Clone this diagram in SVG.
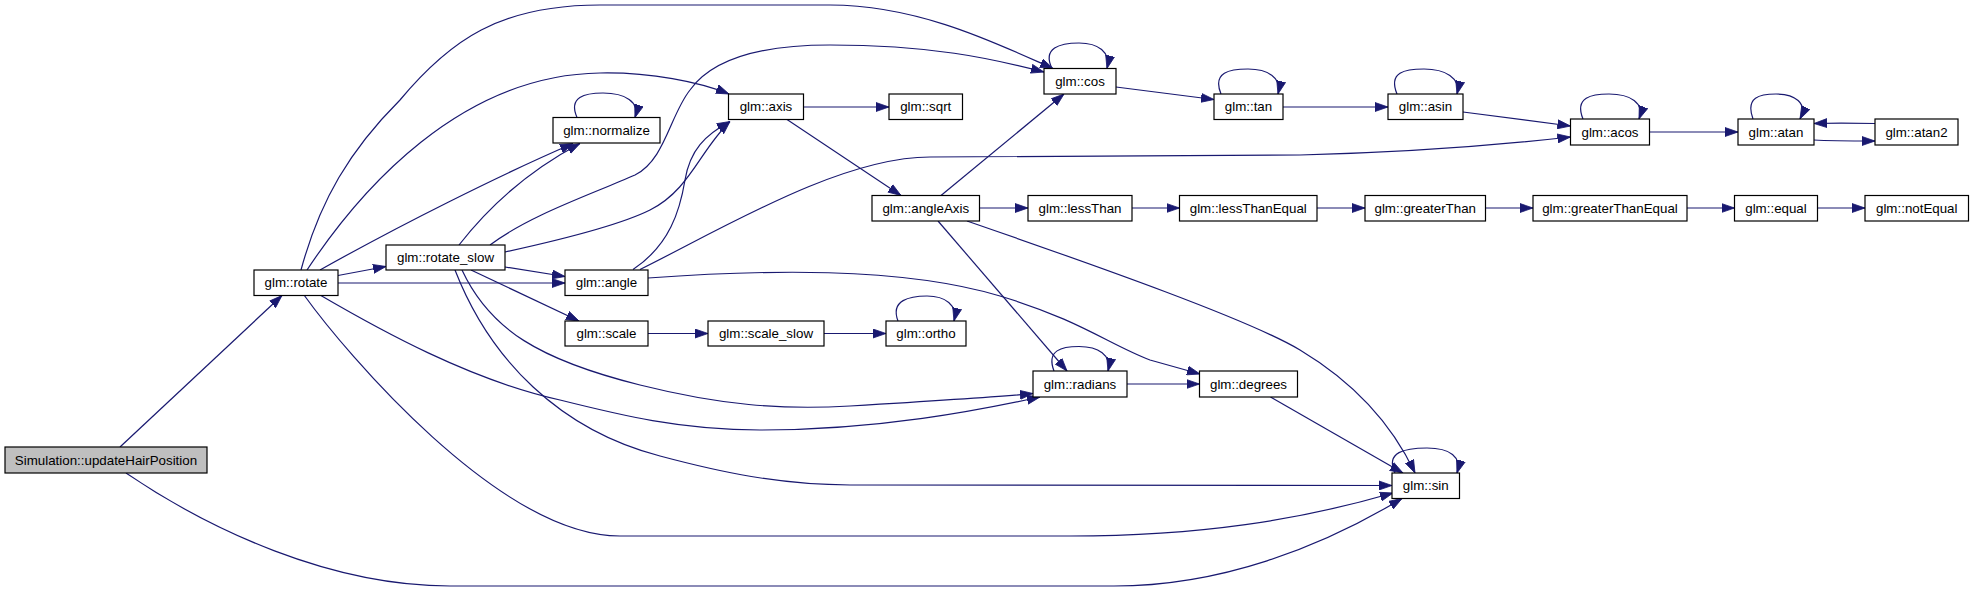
<svg xmlns="http://www.w3.org/2000/svg" width="1973" height="592" viewBox="0 0 1973 592">
<defs>
<style>
.n rect{fill:#ffffff;stroke:#000000;stroke-width:1.2}
.n.root rect{fill:#bfbfbf}
.n text{font-family:"Liberation Sans",Arial,Helvetica,sans-serif;font-size:13.33px;fill:#000000;text-anchor:middle}
.e path{fill:none;stroke:#191970;stroke-width:1.2;marker-end:url(#ah)}
</style>
<marker id="ah" viewBox="0 0 13 10" markerWidth="13" markerHeight="10" refX="13" refY="5" orient="auto" markerUnits="userSpaceOnUse">
<path d="M0,0.5 L13,5 L0,9.5 z" fill="#191970" stroke="#191970" stroke-width="0.8"/>
</marker>
</defs>
<rect width="1973" height="592" fill="#ffffff"/>
<g id="edges" class="e">
<path d="M120,447 L282,295.5"/>
<path d="M126,473 C210,530 330,586 450,586 L1114,586 C1220,586 1320,548 1402,498.5"/>
<path d="M301,270 C320,200 350,150 400,100 C450,40 500,5 600,5 L830,5 C920,5 1000,45 1053,68.5"/>
<path d="M307,270 C360,190 460,75 600,73 C650,72 700,82 729,94"/>
<path d="M320,270 C400,225 500,175 573,143.5"/>
<path d="M338,275.5 L386,266.5"/>
<path d="M338,283 L565,283"/>
<path d="M320,295 C380,330 470,380 560,400 C620,415 680,430 760,430 C880,430 980,410 1040,397"/>
<path d="M304,295 C345,352 500,536 620,536 L1070,536 C1200,536 1300,520 1393,493"/>
<path d="M459,245 C490,205 530,170 580,143.5"/>
<path d="M490,245 C530,215 590,195 635,175 C665,160 670,115 690,90 C715,55 770,45 830,45 C930,45 990,58 1044,72"/>
<path d="M505,252 C560,240 620,225 650,210 C690,190 700,150 730,121.5"/>
<path d="M505,267 L565,276.5"/>
<path d="M471,270 L579,321"/>
<path d="M462,270 C490,330 540,360 640,385 C720,405 780,410 850,406 C950,400 1000,397 1033,393.5"/>
<path d="M455,270 C490,360 560,430 660,456 C720,472 780,485 850,485 L1392,485.5"/>
<path d="M633,269.5 C670,245 680,210 685,180 C690,150 705,135 730,121.5"/>
<path d="M640,269.5 C720,230 840,157 930,157 L1300,155 C1420,152 1500,145 1570.5,137"/>
<path d="M648,278 C760,270 900,266 1000,296 C1080,320 1110,345 1150,360 L1200,374"/>
<path d="M803.5,107 L889,107"/>
<path d="M787,119.5 L901,195.5"/>
<path d="M941,195.5 L1064,94"/>
<path d="M979.5,208 L1028,208"/>
<path d="M938,221 L1067,371"/>
<path d="M967,221 C1100,267 1250,320 1300,350 C1350,380 1390,420 1415,473"/>
<path d="M648,333.5 L708,333.5"/>
<path d="M824,333.5 L886,333.5"/>
<path d="M898,321 C890,300 910,296 927,296 C945,296 958,305 954,321"/>
<path d="M1116,87 L1214,99.5"/>
<path d="M1052,68.5 C1042,48 1060,43 1079,43 C1098,43 1111,52 1107,68.5"/>
<path d="M1221,94 C1212,72 1230,69 1248,69 C1268,69 1282,78 1278,94"/>
<path d="M1283,107 L1388,107"/>
<path d="M1397,94 C1388,72 1405,69 1424,69 C1445,69 1461,78 1457,94"/>
<path d="M1463,112 L1570.5,126"/>
<path d="M1583,119 C1574,97 1592,94 1609,94 C1630,94 1645,103 1639,119"/>
<path d="M1649.5,132 L1738,132"/>
<path d="M1753,119 C1745,97 1760,94 1776,94 C1795,94 1808,103 1800,119"/>
<path d="M1814,140 C1830,141 1850,141 1875,141"/>
<path d="M1875,123.5 C1850,123 1830,123 1814,123.5"/>
<path d="M1132,208 L1179.5,208"/>
<path d="M1317,208 L1365,208"/>
<path d="M1485.5,208 L1533,208"/>
<path d="M1687,208 L1734.5,208"/>
<path d="M1817.5,208 L1865,208"/>
<path d="M1054,371 C1046,350 1062,346.5 1079,346.5 C1098,346.5 1112,355 1108,371"/>
<path d="M1127,384 L1199.5,384"/>
<path d="M1270.5,397 L1403,473"/>
<path d="M1395,473 C1385,452 1405,448 1427,448 C1450,448 1462,457 1457,473"/>
<path d="M577,117.5 C568,97 585,93 603,93 C625,93 640,102 635,117.5"/>
</g>
<g id="n_sim" class="n root"><rect x="5" y="447" width="202" height="26"/><text x="106" y="464.5">Simulation::updateHairPosition</text></g>
<g id="n_rotate" class="n"><rect x="254" y="270" width="84" height="25.5"/><text x="296" y="287.4">glm::rotate</text></g>
<g id="n_rotate_slow" class="n"><rect x="386" y="245" width="119" height="25"/><text x="445.5" y="262.2">glm::rotate_slow</text></g>
<g id="n_normalize" class="n"><rect x="553" y="117.5" width="107" height="25.5"/><text x="606.5" y="134.9">glm::normalize</text></g>
<g id="n_angle" class="n"><rect x="565" y="270" width="83" height="25.5"/><text x="606.5" y="287.4">glm::angle</text></g>
<g id="n_scale" class="n"><rect x="565" y="321" width="83" height="25"/><text x="606.5" y="338.2">glm::scale</text></g>
<g id="n_axis" class="n"><rect x="728.5" y="94" width="75" height="25.5"/><text x="766" y="111.4">glm::axis</text></g>
<g id="n_sqrt" class="n"><rect x="889" y="94" width="73.5" height="25.5"/><text x="925.75" y="111.4">glm::sqrt</text></g>
<g id="n_angleAxis" class="n"><rect x="872" y="195.5" width="107.5" height="25.5"/><text x="925.75" y="212.9">glm::angleAxis</text></g>
<g id="n_scale_slow" class="n"><rect x="708" y="321" width="116" height="25"/><text x="766" y="338.2">glm::scale_slow</text></g>
<g id="n_ortho" class="n"><rect x="886" y="321" width="80" height="25"/><text x="926" y="338.2">glm::ortho</text></g>
<g id="n_cos" class="n"><rect x="1044" y="68.5" width="72" height="25.5"/><text x="1080" y="85.9">glm::cos</text></g>
<g id="n_lessThan" class="n"><rect x="1028" y="195.5" width="104" height="25.5"/><text x="1080" y="212.9">glm::lessThan</text></g>
<g id="n_radians" class="n"><rect x="1033" y="371" width="94" height="26"/><text x="1080" y="388.7">glm::radians</text></g>
<g id="n_tan" class="n"><rect x="1214" y="94" width="69" height="25.5"/><text x="1248.5" y="111.4">glm::tan</text></g>
<g id="n_lessThanEqual" class="n"><rect x="1179.5" y="195.5" width="137.5" height="25.5"/><text x="1248.25" y="212.9">glm::lessThanEqual</text></g>
<g id="n_degrees" class="n"><rect x="1199.5" y="371" width="98" height="26"/><text x="1248.5" y="388.7">glm::degrees</text></g>
<g id="n_asin" class="n"><rect x="1388" y="94" width="75" height="25.5"/><text x="1425.5" y="111.4">glm::asin</text></g>
<g id="n_greaterThan" class="n"><rect x="1365" y="195.5" width="120.5" height="25.5"/><text x="1425.25" y="212.9">glm::greaterThan</text></g>
<g id="n_sin" class="n"><rect x="1392" y="473" width="67.5" height="25.5"/><text x="1425.75" y="490.4">glm::sin</text></g>
<g id="n_acos" class="n"><rect x="1570.5" y="119" width="79" height="26"/><text x="1610" y="136.7">glm::acos</text></g>
<g id="n_greaterThanEqual" class="n"><rect x="1533" y="195.5" width="154" height="25.5"/><text x="1610" y="212.9">glm::greaterThanEqual</text></g>
<g id="n_atan" class="n"><rect x="1738" y="119" width="76" height="26"/><text x="1776" y="136.7">glm::atan</text></g>
<g id="n_equal" class="n"><rect x="1734.5" y="195.5" width="83" height="25.5"/><text x="1776" y="212.9">glm::equal</text></g>
<g id="n_atan2" class="n"><rect x="1875" y="119" width="83" height="26"/><text x="1916.5" y="136.7">glm::atan2</text></g>
<g id="n_notEqual" class="n"><rect x="1865" y="195.5" width="103.5" height="25.5"/><text x="1916.75" y="212.9">glm::notEqual</text></g>
</svg>
